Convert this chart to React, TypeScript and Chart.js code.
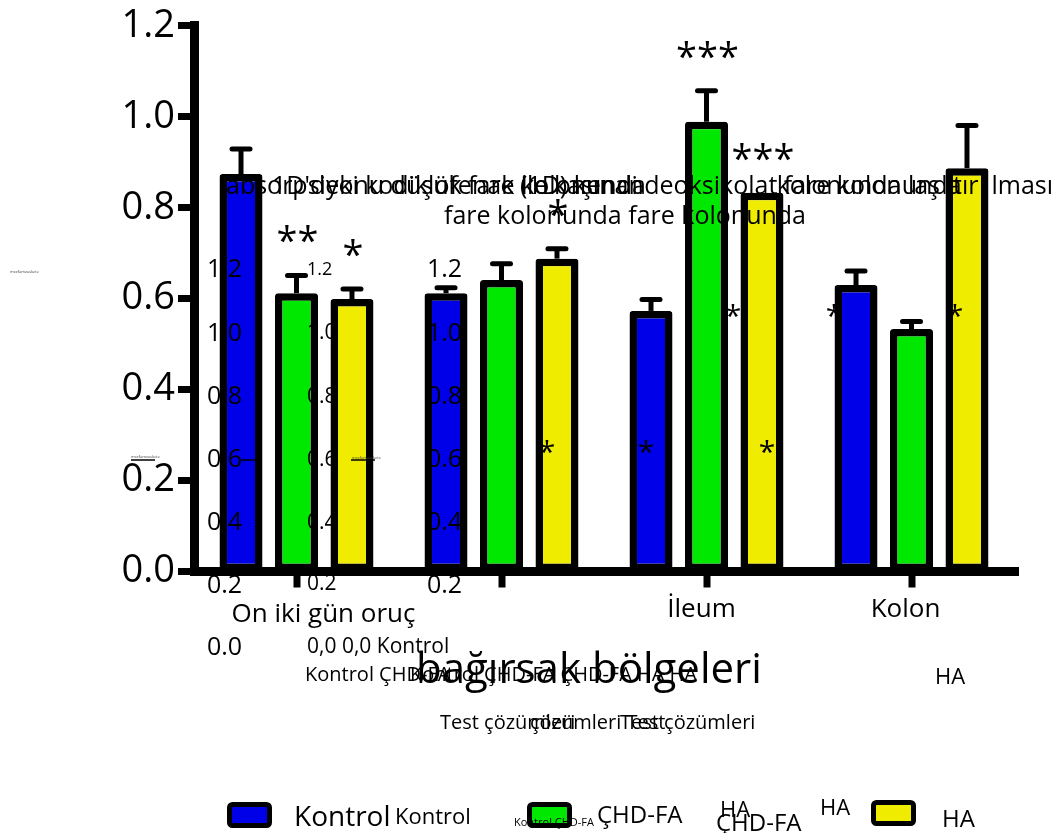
import React, { useEffect, useRef } from "react";
import { Chart, registerables } from "chart.js";

Chart.register(...registerables);

const FONT = "'Open Sans', 'Noto Sans', 'DejaVu Sans', sans-serif";

// Intestinal regions (x categories)
const regions = ["On iki gün oruç", "", "İleum", "Kolon"];
// Test solutions (series)
const seriesNames = ["Kontrol", "ÇHD-FA", "HA"];

// Means and SEM per region
const kontrolMean = [0.874, 0.612, 0.573, 0.63];
const kontrolSem = [0.055, 0.012, 0.025, 0.031];
const chdfaMean = [0.612, 0.641, 0.989, 0.533];
const chdfaSem = [0.039, 0.036, 0.068, 0.017];
const haMean = [0.599, 0.688, 0.833, 0.887];
const haSem = [0.022, 0.022, 0, 0.094];

// Significance marks above each bar
const kontrolSig = ["", "", "", ""];
const chdfaSig = ["**", "", "***", ""];
const haSig = ["*", "*", "***", ""];

// Y axis
const yMin = 0;
const yMax = 1.2;
const yStep = 0.2;

const barColors = ["#0000E8", "#00E800", "#F0EC00"];

// Free text placed over the plot
const titleLine1 = [
  "absorpsiyonu düşük fare kolonunda",
  "1D'deki kodiklofenak ile kaşınan",
  "(1D) kendi deoksikolat fare kolonunda",
  "kolonunda laş  tır  lması",
];
const titleLine2 = "fare kolonunda fare kolonunda";
const insetTicks = ["1.2", "1.0", "0.8", "0.6", "0.4", "0.2"];
const insetZero = "0.0";
const insetZeroRow = "0,0 0,0 Kontrol";
const groupRowA = "Kontrol ÇHD-FA";
const groupRowB = "Kontrol ÇHD-FA ÇHD-FA HA HA";
const axisTitle = "bağırsak bölgeleri";
const sideHA = "HA";
const solutionsA = "Test çözümleri";
const solutionsB = "çözümleri Test";
const tinyNote = "mcxfamzaskete";
const smallStar = "*";
const legendExtras = ["Kontrol", "Kontrol ÇHD-FA", "ÇHD-FA", "HA", "HA"];

const font = (size: number) => `${size}px ${FONT}`;

const errorBarPlugin = {
  id: "errorBars",
  afterDatasetsDraw(chart: any) {
    const ctx = chart.ctx;
    const y = chart.scales.y;
    ctx.save();
    ctx.strokeStyle = "#000";
    ctx.fillStyle = "#000";
    chart.data.datasets.forEach((ds: any, di: number) => {
      const meta = chart.getDatasetMeta(di);
      meta.data.forEach((bar: any, i: number) => {
        const mean = ds.data[i];
        const sem = ds.sem[i];
        const top = y.getPixelForValue(mean);
        const capY = y.getPixelForValue(mean + sem);
        if (sem > 0) {
          ctx.lineWidth = 5;
          ctx.lineCap = "butt";
          ctx.beginPath();
          ctx.moveTo(bar.x, top);
          ctx.lineTo(bar.x, capY);
          ctx.stroke();
          ctx.lineCap = "round";
          ctx.beginPath();
          ctx.moveTo(bar.x - 9, capY);
          ctx.lineTo(bar.x + 9, capY);
          ctx.stroke();
        }
        const sig = ds.sig[i];
        if (sig) {
          ctx.font = font(38);
          ctx.textAlign = "center";
          ctx.textBaseline = "alphabetic";
          ctx.fillText(sig, bar.x + 1, capY - 21);
        }
      });
    });
    ctx.restore();
  },
};

const overlayPlugin = {
  id: "overlay",
  afterDraw(chart: any) {
    const ctx = chart.ctx;
    const xs = chart.scales.x;
    ctx.save();
    ctx.fillStyle = "#000";
    ctx.textBaseline = "alphabetic";
    const put = (t: string, x: number, y: number, size: number, align: CanvasTextAlign = "left") => {
      ctx.font = font(size);
      ctx.textAlign = align;
      ctx.fillText(t, x, y);
    };

    // overlapping title fragments
    const t1x = [226, 272, 520];
    titleLine1.slice(0, 3).forEach((t, i) => put(t, t1x[i], 194, 25));
    put(titleLine1[3], 1053, 194, 25, "right");
    put(titleLine2, 625, 224, 25, "center");

    // ghost tick columns
    const colBase = [277, 341, 404, 467, 530, 593];
    const col2Base = [275, 339, 403, 466, 529, 590];
    insetTicks.forEach((t, i) => {
      put(t, 207, colBase[i], 25);
      put(t, 427, colBase[i], 25);
      put(t, 307, col2Base[i], i === 0 ? 18 : 21);
    });
    put(insetZero, 207, 655, 25);
    put(insetZeroRow, 307, 653, 21);

    ctx.strokeStyle = "#000";
    ctx.lineWidth = 1.5;
    [[241, 256], [351, 375], [131, 155]].forEach(([a, b]) => {
      ctx.beginPath();
      ctx.moveTo(a, 460);
      ctx.lineTo(b, 460);
      ctx.stroke();
    });
    ctx.fillStyle = "#444";
    put(tinyNote, 10, 273, 4);
    put(tinyNote, 131, 458, 4);
    put(tinyNote, 352, 459, 4);
    ctx.fillStyle = "#000";

    // small stray asterisks
    [[733, 326], [834, 326], [955, 326], [547, 462], [646, 462], [767, 462]].forEach(([x, y]) =>
      put(smallStar, x, y, 30, "center")
    );

    // region labels under the x axis
    const shift = [27, 0, -5, -6];
    const base = [622, 620, 617, 617];
    regions.forEach((r, i) => {
      if (r) put(r, xs.getPixelForValue(i) + shift[i], base[i], 26, "center");
    });

    put(groupRowA, 305, 681, 20);
    put(groupRowB, 410, 681, 20);
    put(axisTitle, 416, 683, 42);
    put(sideHA, 935, 684, 22);
    put(solutionsA, 440, 729, 20);
    put(solutionsB, 530, 729, 20);
    put(solutionsA, 620, 729, 20);

    // legend
    const boxes = [
      [227, 802],
      [527, 802],
      [871, 800],
    ];
    chart.data.datasets.forEach((ds: any, i: number) => {
      const [bx, by] = boxes[i];
      ctx.fillStyle = ds.backgroundColor;
      ctx.strokeStyle = "#000";
      ctx.lineWidth = 5;
      ctx.beginPath();
      ctx.roundRect(bx + 2.5, by + 2.5, 40, 21, 3);
      ctx.fill();
      ctx.stroke();
    });
    ctx.fillStyle = "#000";
    put(chart.data.datasets[0].label, 294, 826, 28);
    put(legendExtras[0], 395, 824, 22);
    put(legendExtras[1], 514, 826, 11);
    put(chart.data.datasets[1].label, 597, 823, 24);
    put(legendExtras[2], 716, 831, 24);
    put(legendExtras[3], 720, 817, 22);
    put(legendExtras[4], 820, 815, 22);
    put(chart.data.datasets[2].label, 942, 827, 24);

    ctx.restore();
  },
};

export default function App() {
  const ref = useRef<HTMLCanvasElement>(null);

  useEffect(() => {
    document.body.style.margin = "0";
    const means = [kontrolMean, chdfaMean, haMean];
    const sems = [kontrolSem, chdfaSem, haSem];
    const sigs = [kontrolSig, chdfaSig, haSig];

    const datasets = seriesNames.map((name, i) => ({
      label: name,
      data: means[i],
      sem: sems[i],
      sig: sigs[i],
      backgroundColor: barColors[i],
      borderColor: "#000",
      borderWidth: 7.5,
      borderSkipped: false,
      borderRadius: 3,
      categoryPercentage: 0.812,
      barPercentage: 0.775,
    }));

    const axisGrid = {
      drawOnChartArea: false,
      drawTicks: true,
      tickLength: 16,
      tickWidth: 7,
      tickColor: "#000",
      color: "#000",
    };

    const chart = new Chart(ref.current as HTMLCanvasElement, {
      type: "bar",
      data: { labels: regions, datasets: datasets as any },
      options: {
        responsive: false,
        animation: false,
        layout: { padding: { top: 23, right: 46, bottom: 0, left: 0 } },
        plugins: { legend: { display: false }, tooltip: { enabled: false } },
        scales: {
          x: {
            offset: true,
            grid: { ...axisGrid, offset: false, lineWidth: 10 },
            border: { display: true, width: 9, color: "#000" },
            ticks: { display: false },
            afterFit: (s: any) => {
              s.height = 261.5;
            },
          },
          y: {
            min: yMin,
            max: yMax,
            grid: { ...axisGrid, lineWidth: 1 },
            border: { display: true, width: 9, color: "#000" },
            ticks: {
              stepSize: yStep,
              padding: 3,
              color: "#000",
              font: { family: FONT, size: 38 },
              callback: (v: any) => Number(v).toFixed(1),
            },
            afterFit: (s: any) => {
              s.width = 194;
            },
          },
        },
      } as any,
      plugins: [errorBarPlugin, overlayPlugin],
    });
    return () => chart.destroy();
  }, []);

  return (
    <div style={{ width: 1060, height: 833 }}>
      <canvas ref={ref} width={1060} height={833} style={{ display: "block" }} />
    </div>
  );
}
